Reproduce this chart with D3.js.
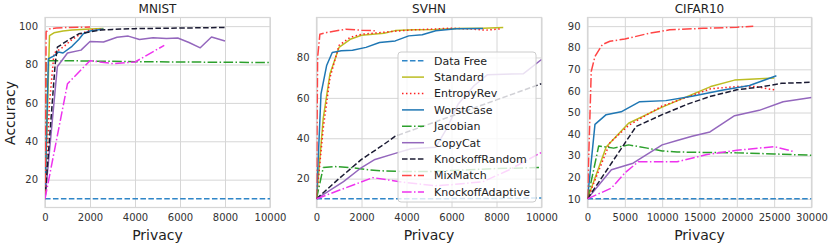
<!DOCTYPE html>
<html><head><meta charset="utf-8">
<script src="https://cdn.jsdelivr.net/npm/d3@7"></script>
<style>
html,body{margin:0;padding:0;background:#fff;}
svg{display:block;font-family:"DejaVu Sans",sans-serif;}
</style></head>
<body>
<svg id="chart" width="831" height="245"></svg>
<script>
// ---------- data ----------
const seriesNames = ["Data Free","Standard","EntropyRev","WorstCase","Jacobian","CopyCat","KnockoffRandom","MixMatch","KnockoffAdaptive"];
const seriesColors = ["#2f86c8","#bcbd22","#ff2020","#1f77b4","#2ca02c","#9467bd","#1b1b33","#ff4545","#ee33ee"];
const seriesDash = ["dashed","solid","dotted","solid","dashdot","solid","dashed","dashdot","dashdot"];

const panelTitles = ["MNIST","SVHN","CIFAR10"];
const xTicksMNIST = [0,2000,4000,6000,8000,10000];
const yTicksMNIST = [20,40,60,80,100];
const xTicksSVHN = [0,2000,4000,6000,8000,10000];
const yTicksSVHN = [20,40,60,80];
const xTicksCIFAR = [0,5000,10000,15000,20000,25000,30000];
const yTicksCIFAR = [10,20,30,40,50,60,70,80,90];

// MNIST series: [privacy, accuracy]
const mnistDataFree = [[0,10],[2000,10],[4000,10],[6000,10],[8000,10],[10000,10]];
const mnistStandard = [[0,10],[200,95],[400,96.5],[800,97.5],[1200,98],[1600,98.3],[2000,98.5],[2600,98.8]];
const mnistEntropyRev = [[0,10],[200,60],[400,86],[800,89],[1200,93],[1600,96],[2000,98],[2600,98.5]];
const mnistWorstCase = [[0,10],[150,83],[400,84.5],[600,86.5],[800,86],[1200,89.5],[1500,93],[1700,96],[2000,97.5],[2600,98.5]];
const mnistJacobian = [[0,10],[50,83],[200,82],[1000,82],[2000,81.8],[4000,81.5],[6000,81.3],[8000,81.2],[10000,81]];
const mnistCopyCat = [[0,10],[550,79],[1000,86],[1600,87.5],[2000,92],[2600,91.7],[3200,94.2],[3700,94.8],[4200,93],[4800,94],[5400,93.6],[5900,93.8],[6400,91.5],[6900,88.7],[7400,94.3],[8000,92.3]];
const mnistKnockoffRandom = [[0,10],[450,80],[550,89],[1000,92.5],[1500,96],[2000,97],[2500,98],[3000,98.3],[4000,98.7],[6000,99],[8000,99.3]];
const mnistMixMatch = [[0,10],[50,97],[200,98.5],[500,99],[1000,99.3],[2000,99.5]];
const mnistKnockoffAdaptive = [[0,10],[1000,70],[2000,82],[3000,80.5],[4000,81.3],[5300,90]];

// SVHN series
const svhnDataFree = [[0,10],[2000,10],[4000,10],[6000,10.1],[8000,10.2],[10000,10.4]];
const svhnStandard = [[0,10],[300,50],[600,72],[1000,85],[1500,89],[2000,91],[3000,92],[3500,93.3],[4300,93.7],[5300,93.8],[6200,94.3],[7400,94.5],[8300,94.8]];
const svhnEntropyRev = [[0,10],[300,45],[600,70],[1000,86],[1500,90],[2000,91.5],[3000,92.5],[4000,93.5],[5000,94],[6000,94.5],[7000,94],[7500,93.5],[8200,94.2]];
const svhnWorstCase = [[0,10],[200,62],[450,76],[700,82.5],[1100,83.3],[1600,83.6],[2200,85],[2800,87.4],[3500,88.2],[4100,90.7],[4700,91.3],[5300,93.2],[6200,94.2],[7400,94.3]];
const svhnJacobian = [[0,10],[300,25.5],[800,26],[1500,25.5],[2200,24.5],[3000,23.8],[4000,23.5],[5000,23.5],[6000,24],[7000,24.5],[8000,25],[10000,25.5]];
const svhnCopyCat = [[0,10],[1200,18.5],[2000,25.5],[2600,29.5],[3500,32.5],[4200,34.8],[5300,35.6],[5800,45],[6300,57],[7000,66],[7600,71.5],[9200,72],[10000,79]];
const svhnKnockoffRandom = [[0,10],[1000,20],[2000,29.5],[3000,37],[3500,41],[5000,47],[6000,51],[7000,55],[8000,59],[9000,63],[10000,67]];
const svhnMixMatch = [[0,10],[50,80],[150,91.5],[500,92.5],[1300,94],[2000,93.5],[2700,93.2]];
const svhnKnockoffAdaptive = [[0,10],[2500,20.5],[4000,18],[5300,16.5],[6000,17],[7400,18.5],[8500,24],[10000,33]];

// CIFAR10 series
const cifarDataFree = [[0,10],[5000,10],[10000,10],[15000,10],[20000,10],[25000,10],[30000,10]];
const cifarStandard = [[0,10],[2500,34],[5500,45],[10000,52.5],[16500,62],[19700,65],[25000,66]];
const cifarEntropyRev = [[0,10],[3000,36],[5500,44],[10000,53],[16500,61],[20000,62],[22500,62],[25000,60.5]];
const cifarWorstCase = [[0,10],[1000,44.5],[2500,49],[4500,50.3],[7000,55],[10500,55.5],[14000,57.5],[18000,60.3],[21700,62.5],[25300,67]];
const cifarJacobian = [[0,10],[1500,34.5],[3500,33.5],[5500,35],[8000,33.5],[10000,32.2],[12000,31.7],[16000,31.5],[20000,31.3],[25000,30.8],[30000,30.2]];
const cifarCopyCat = [[0,10],[3200,23.5],[6100,26.5],[10000,35],[12000,37],[14000,39],[16400,41],[19700,48.5],[23000,51],[26200,55],[30000,57]];
const cifarKnockoffRandom = [[0,10],[6500,43.5],[10000,49],[13500,54],[16500,57.5],[20000,60.5],[23500,62],[26000,63.5],[30000,64]];
const cifarMixMatch = [[0,10],[500,69],[1000,76],[2000,81.5],[3000,83],[5000,84],[8000,86.5],[11000,88.3],[15500,89],[20000,89.5],[22200,90]];
const cifarKnockoffAdaptive = [[0,10],[3200,15],[5000,22],[6800,27.2],[12000,27.2],[16000,30.5],[20000,32.5],[25000,34.2],[27500,32]];

// ---------- drawing ----------
const panels = [
  {title: panelTitles[0], xDomain:[0,10000], yDomain:[5.5,104.5], xTicks:xTicksMNIST, yTicks:yTicksMNIST,
   series:[mnistDataFree,mnistStandard,mnistEntropyRev,mnistWorstCase,mnistJacobian,mnistCopyCat,mnistKnockoffRandom,mnistMixMatch,mnistKnockoffAdaptive],
   left:45, right:270},
  {title: panelTitles[1], xDomain:[0,10000], yDomain:[5.7,99.8], xTicks:xTicksSVHN, yTicks:yTicksSVHN,
   series:[svhnDataFree,svhnStandard,svhnEntropyRev,svhnWorstCase,svhnJacobian,svhnCopyCat,svhnKnockoffRandom,svhnMixMatch,svhnKnockoffAdaptive],
   left:316.5, right:541.5, legend:true},
  {title: panelTitles[2], xDomain:[0,30000], yDomain:[6,94], xTicks:xTicksCIFAR, yTicks:yTicksCIFAR,
   series:[cifarDataFree,cifarStandard,cifarEntropyRev,cifarWorstCase,cifarJacobian,cifarCopyCat,cifarKnockoffRandom,cifarMixMatch,cifarKnockoffAdaptive],
   left:587.5, right:811.5}
];
const plotTop = 17.5, plotBottom = 207.5;
const lw = 1.5;
const dashMap = {solid:null, dashed:`${3.7*lw},${1.6*lw}`, dotted:`${1*lw},${1.65*lw}`, dashdot:`${6.4*lw},${1.6*lw},${1*lw},${1.6*lw}`};
const gridColor = "#d6d6d6", textColor = "#333";

const svg = d3.select("#chart");

panels.forEach((p, pi) => {
  const x = d3.scaleLinear().domain(p.xDomain).range([p.left, p.right]);
  const y = d3.scaleLinear().domain(p.yDomain).range([plotBottom, plotTop]);
  const g = svg.append("g");
  const clipId = "clip" + pi;
  svg.append("clipPath").attr("id", clipId).append("rect")
    .attr("x", p.left).attr("y", plotTop).attr("width", p.right - p.left).attr("height", plotBottom - plotTop);

  const xAxis = d3.axisBottom(x).tickValues(p.xTicks).tickSize(-(plotBottom - plotTop)).tickPadding(6).tickFormat(d3.format("d"));
  const yAxis = d3.axisLeft(y).tickValues(p.yTicks).tickSize(-(p.right - p.left)).tickPadding(7).tickFormat(d3.format("d"));
  const gx = g.append("g").attr("transform", `translate(0,${plotBottom})`).call(xAxis);
  const gy = g.append("g").attr("transform", `translate(${p.left},0)`).call(yAxis);
  [gx, gy].forEach(a => {
    a.select(".domain").remove();
    a.selectAll(".tick line").attr("stroke", gridColor).attr("stroke-width", 1);
    a.selectAll(".tick text").attr("fill", textColor).style("font-size", "10px").style("font-family", "DejaVu Sans");
  });

  g.append("rect").attr("x", p.left).attr("y", plotTop).attr("width", p.right - p.left).attr("height", plotBottom - plotTop)
    .attr("fill", "none").attr("stroke", gridColor).attr("stroke-width", 1.25);

  const line = d3.line().x(d => x(d[0])).y(d => y(d[1]));
  const lg = g.append("g").attr("clip-path", `url(#${clipId})`);
  p.series.forEach((s, i) => {
    lg.append("path").datum(s).attr("d", line).attr("fill", "none")
      .attr("stroke", seriesColors[i]).attr("stroke-width", lw)
      .attr("stroke-dasharray", dashMap[seriesDash[i]])
      .attr("stroke-linejoin", "round");
  });

  g.append("text").attr("x", (p.left + p.right) / 2).attr("y", 12.5).attr("text-anchor", "middle")
    .attr("fill", "#222").style("font-size", "12px").text(p.title);
  g.append("text").attr("x", (p.left + p.right) / 2).attr("y", 240).attr("text-anchor", "middle")
    .attr("fill", "#222").style("font-size", "14px").text("Privacy");

  if (p.legend) {
    const lx = 398, ly = 52, lwid = 138, lh = 150;
    const lgd = g.append("g");
    lgd.append("rect").attr("x", lx).attr("y", ly).attr("width", lwid).attr("height", lh).attr("rx", 3)
      .attr("fill", "white").attr("fill-opacity", 0.8).attr("stroke", "#cccccc").attr("stroke-width", 1);
    seriesNames.forEach((n, i) => {
      const yy = 60.7 + i * 16.4;
      lgd.append("line").attr("x1", 402).attr("x2", 424).attr("y1", yy).attr("y2", yy)
        .attr("stroke", seriesColors[i]).attr("stroke-width", lw).attr("stroke-dasharray", dashMap[seriesDash[i]]);
      lgd.append("text").attr("x", 434).attr("y", yy).attr("dy", "0.35em").attr("fill", "#222")
        .style("font-size", "11px").text(n);
    });
  }
});

svg.append("text").attr("transform", "translate(15,113) rotate(-90)").attr("text-anchor", "middle")
  .attr("fill", "#222").style("font-size", "14px").text("Accuracy");
</script>
</body></html>
